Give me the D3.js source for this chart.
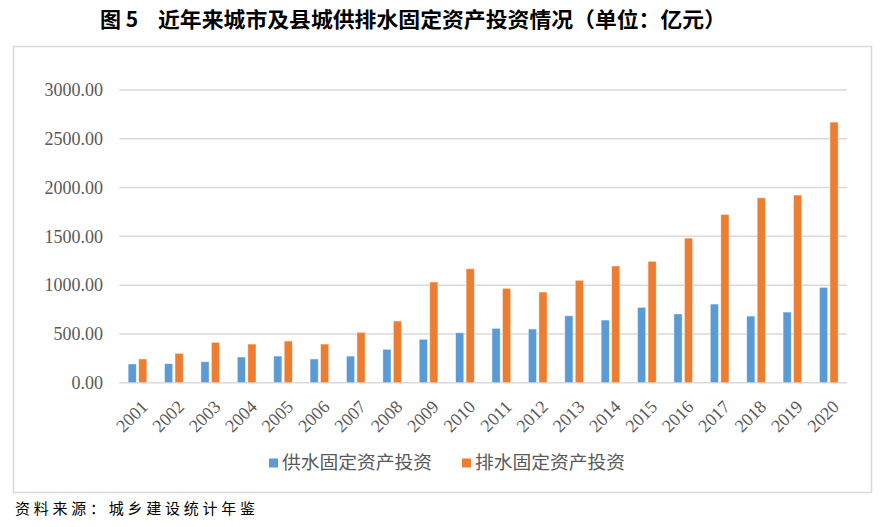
<!DOCTYPE html>
<html>
<head>
<meta charset="utf-8">
<script src="https://cdn.jsdelivr.net/npm/d3@7"></script>
<style>
	body { margin: 0; background: #fff; }
	svg { display: block; }
</style>
</head>
<body>
<svg id="chart" width="884" height="527"></svg>
<script>
	//Data---------------------------------------------------------------------
	var years = ['2001', '2002', '2003', '2004', '2005', '2006', '2007', '2008', '2009', '2010',
		'2011', '2012', '2013', '2014', '2015', '2016', '2017', '2018', '2019', '2020'];
	var supply = [192, 195, 215, 263, 273, 243, 273, 342, 445, 512,
		557, 550, 686, 642, 772, 704, 806, 683, 724, 977];
	var drain = [243, 301, 414, 396, 427, 396, 516, 632, 1032, 1168,
		967, 929, 1049, 1196, 1244, 1482, 1725, 1895, 1923, 2671];
	var yTicks = [0, 500, 1000, 1500, 2000, 2500, 3000];
	var seriesNames = ['供水固定资产投资', '排水固定资产投资'];
	var seriesColors = ['#5b9bd5', '#ed7d31'];

	var svg = d3.select('#chart');

	//title
	svg.append('text')
		.attr('x', 100).attr('y', 27)
		.style('font-family', '"Noto Sans CJK SC"')
		.style('font-weight', 'bold')
		.style('font-size', '21px')
		.text('图 5');
	svg.append('text')
		.attr('x', 158).attr('y', 27)
		.attr('textLength', 568)
		.attr('lengthAdjust', 'spacingAndGlyphs')
		.style('font-family', '"Noto Sans CJK SC"')
		.style('font-weight', 'bold')
		.style('font-size', '21px')
		.text('近年来城市及县城供排水固定资产投资情况（单位：亿元）');

	//chart frame
	svg.append('rect')
		.attr('x', 13.5).attr('y', 46.5)
		.attr('width', 858).attr('height', 446)
		.style('fill', 'none')
		.style('stroke', '#d9d9d9')
		.style('stroke-width', 1.5);

	//scales
	var x = d3.scaleBand().domain(years).range([119.3, 847]);
	var y = d3.scaleLinear().domain([0, 3000]).range([382.7, 90]);
	var groupW = 18.7;
	var xs = d3.scaleBand().domain([0, 1])
		.range([(x.bandwidth() - groupW) / 2, (x.bandwidth() + groupW) / 2])
		.paddingInner(0.22);

	//grid lines
	svg.append('g').selectAll('line')
		.data(yTicks)
		.enter()
		.append('line')
		.attr('x1', x.range()[0]).attr('x2', x.range()[1])
		.attr('y1', function (d) { return y(d); })
		.attr('y2', function (d) { return y(d); })
		.style('stroke', '#d9d9d9')
		.style('stroke-width', 1.5);

	//y axis labels
	var yAxis = svg.append('g')
		.attr('transform', 'translate(103,0)')
		.call(d3.axisLeft(y).tickValues(yTicks).tickSize(0).tickPadding(0)
			.tickFormat(d3.format('.2f')));
	yAxis.select('.domain').remove();
	yAxis.selectAll('text')
		.style('font-family', '"Liberation Serif"')
		.style('font-size', '18px')
		.style('fill', '#595959');

	//bars
	var series = [supply, drain];
	series.forEach(function (vals, s) {
		svg.append('g').selectAll('rect')
			.data(vals)
			.enter()
			.append('rect')
			.attr('x', function (d, i) { return x(years[i]) + xs(s); })
			.attr('width', xs.bandwidth())
			.attr('y', function (d) { return y(d); })
			.attr('height', function (d) { return y(0) - y(d); })
			.style('fill', seriesColors[s])
			.style('stroke', 'rgba(255,255,255,0.55)')
			.style('stroke-width', 0.8);
	});

	//x axis labels, rotated
	svg.append('g').selectAll('text')
		.data(years)
		.enter()
		.append('text')
		.attr('transform', function (d) {
			var cx = x(d) + x.bandwidth() / 2 + 2.5;
			return 'translate(' + cx + ',399) rotate(-45)';
		})
		.attr('dy', '0.7em')
		.style('text-anchor', 'end')
		.style('font-family', '"Liberation Serif"')
		.style('font-size', '18px')
		.style('fill', '#595959')
		.text(function (d) { return d; });

	//legend
	var legendX = [269, 462];
	var legend = svg.append('g').selectAll('g')
		.data(seriesNames)
		.enter()
		.append('g')
		.attr('transform', function (d, i) { return 'translate(' + legendX[i] + ',463)'; });
	legend.append('rect')
		.attr('x', 0).attr('y', -4.5)
		.attr('width', 9).attr('height', 9)
		.style('fill', function (d, i) { return seriesColors[i]; });
	legend.append('text')
		.attr('x', 13).attr('y', 0)
		.attr('dy', '0.35em')
		.attr('textLength', 150)
		.attr('lengthAdjust', 'spacingAndGlyphs')
		.style('font-family', '"Noto Sans CJK SC"')
		.style('font-size', '18px')
		.style('fill', '#595959')
		.text(function (d) { return d; });

	//source note
	svg.append('text')
		.attr('x', 15).attr('y', 514)
		.attr('textLength', 240)
		.attr('lengthAdjust', 'spacing')
		.style('font-family', '"Noto Sans CJK SC"')
		.style('font-size', '15px')
		.style('fill', '#000')
		.text('资料来源：城乡建设统计年鉴');
</script>
</body>
</html>
